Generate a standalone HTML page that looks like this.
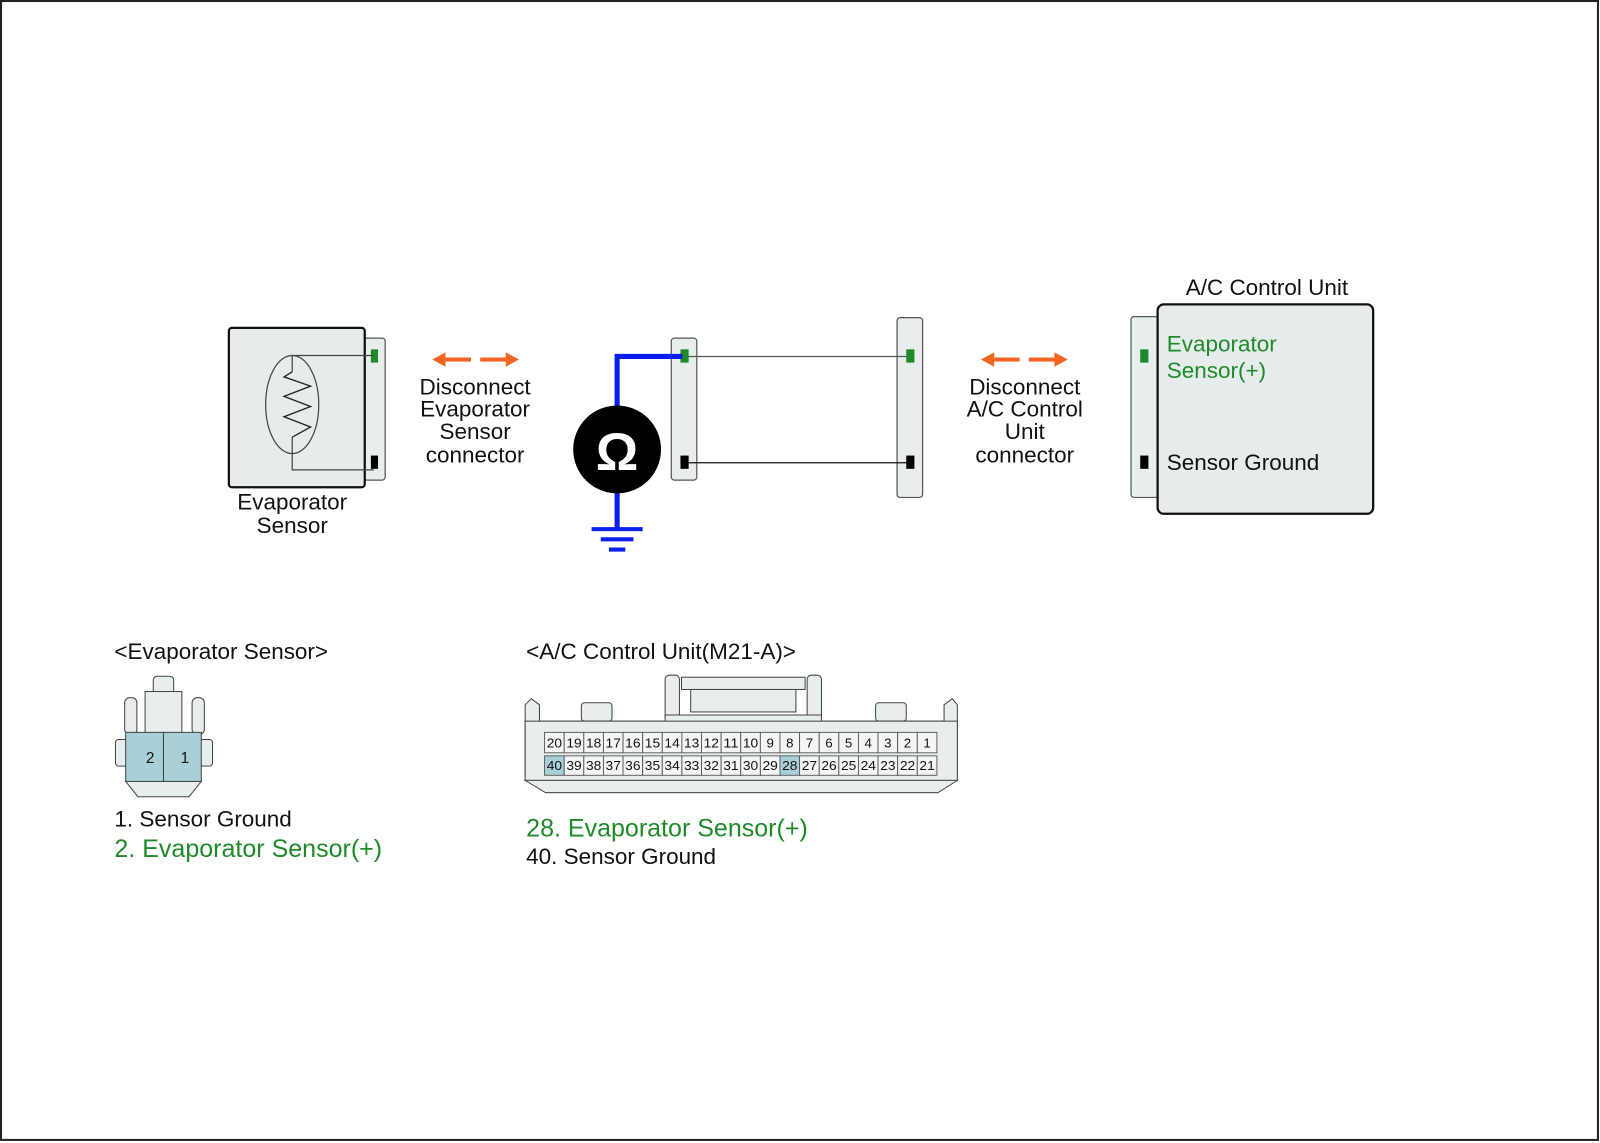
<!DOCTYPE html>
<html><head><meta charset="utf-8"><style>
html,body{margin:0;padding:0;background:#fff}
svg{display:block}
text{font-family:"Liberation Sans",sans-serif;font-size:22px;fill:#111}
.g{fill:#1f8a2a}
.c text{font-size:13px}
</style></head><body>
<svg width="1600" height="1143" viewBox="0 0 1566 1119" preserveAspectRatio="none" xmlns="http://www.w3.org/2000/svg">
<rect x="1" y="1" width="1563" height="1115" fill="#fff" stroke="#222" stroke-width="2"/>
<rect x="356" y="331" width="21" height="139" rx="3" fill="#e8eeee" stroke="#555" stroke-width="1.2"/>
<rect x="224" y="321" width="133" height="156" rx="3" fill="#e6ecec" stroke="#111" stroke-width="2.2"/>
<rect x="363" y="342" width="7" height="13" fill="#1f8a2a"/>
<rect x="363" y="446" width="7" height="13" fill="#000"/>
<polyline points="366,348 286,348 286,364" fill="none" stroke="#444" stroke-width="1.2"/>
<polyline points="286,428 286,460 366,460" fill="none" stroke="#444" stroke-width="1.2"/>
<ellipse cx="286" cy="396" rx="26" ry="48" fill="none" stroke="#444" stroke-width="1.2"/>
<polyline points="286,364 278,369 304,378 278,388 304,398 278,408 304,418 286,428" fill="none" stroke="#222" stroke-width="1.3"/>
<text x="286" y="499" text-anchor="middle">Evaporator</text>
<text x="286" y="522" text-anchor="middle">Sensor</text>
<g fill="#f26522">
<rect x="434" y="350" width="27" height="4"/><polygon points="423,352 436,345 436,359"/>
<rect x="470" y="350" width="27" height="4"/><polygon points="508,352 495,345 495,359"/>
<rect x="971" y="350" width="27" height="4"/><polygon points="960,352 973,345 973,359"/>
<rect x="1007" y="350" width="27" height="4"/><polygon points="1045,352 1032,345 1032,359"/>
</g>
<text x="465" y="386" text-anchor="middle">Disconnect</text>
<text x="465" y="408" text-anchor="middle">Evaporator</text>
<text x="465" y="430" text-anchor="middle">Sensor</text>
<text x="465" y="453" text-anchor="middle">connector</text>
<text x="1003" y="386" text-anchor="middle">Disconnect</text>
<text x="1003" y="408" text-anchor="middle">A/C Control</text>
<text x="1003" y="430" text-anchor="middle">Unit</text>
<text x="1003" y="453" text-anchor="middle">connector</text>
<rect x="657" y="331" width="25" height="139" rx="3" fill="#e8eeee" stroke="#555" stroke-width="1.2"/>
<rect x="878" y="311" width="25" height="176" rx="3" fill="#e8eeee" stroke="#555" stroke-width="1.2"/>
<line x1="670" y1="349" x2="890" y2="349" stroke="#555" stroke-width="1.2"/>
<line x1="670" y1="453" x2="890" y2="453" stroke="#111" stroke-width="1.2"/>
<rect x="666" y="342" width="8" height="13" fill="#1f8a2a"/>
<rect x="666" y="446" width="8" height="13" fill="#000"/>
<rect x="887" y="342" width="8" height="13" fill="#1f8a2a"/>
<rect x="887" y="446" width="8" height="13" fill="#000"/>
<polyline points="604,400 604,349 668,349" fill="none" stroke="#0a1ef0" stroke-width="5"/>
<line x1="604" y1="480" x2="604" y2="518" stroke="#0a1ef0" stroke-width="5"/>
<line x1="579" y1="518" x2="629" y2="518" stroke="#0a1ef0" stroke-width="4"/>
<line x1="588" y1="528" x2="620" y2="528" stroke="#0a1ef0" stroke-width="4"/>
<line x1="596" y1="538" x2="612" y2="538" stroke="#0a1ef0" stroke-width="4"/>
<circle cx="604" cy="440" r="43" fill="#000"/>
<text x="604" y="460" text-anchor="middle" style="font-size:52px;font-weight:bold;fill:#fff">Ω</text>
<text x="1240" y="289" text-anchor="middle">A/C Control Unit</text>
<rect x="1107" y="310" width="28" height="177" rx="3" fill="#e8eeee" stroke="#555" stroke-width="1.2"/>
<rect x="1133" y="298" width="211" height="205" rx="6" fill="#e6ecec" stroke="#111" stroke-width="2.2"/>
<rect x="1116" y="342" width="8" height="13" fill="#1f8a2a"/>
<rect x="1116" y="446" width="8" height="13" fill="#000"/>
<text x="1142" y="344" class="g">Evaporator</text>
<text x="1142" y="370" class="g">Sensor(+)</text>
<text x="1142" y="460">Sensor Ground</text>
<text x="112" y="645">&lt;Evaporator Sensor&gt;</text>
<g stroke="#444" stroke-width="1" fill="#e8eeee">
<rect x="150" y="662" width="20" height="18" rx="4"/>
<rect x="122" y="683" width="12" height="36" rx="5"/>
<rect x="188" y="683" width="12" height="36" rx="5"/>
<rect x="142" y="677" width="36" height="42"/>
<rect x="113" y="724" width="12" height="26" rx="3"/>
<rect x="196" y="724" width="12" height="26" rx="3"/>
<polygon points="123,765 197,765 185,780 135,780"/>
<rect x="123" y="717" width="37" height="48" fill="#a9d0d8"/>
<rect x="160" y="717" width="37" height="48" fill="#a9d0d8"/>
</g>
<text x="147" y="747" text-anchor="middle" style="font-size:15px">2</text>
<text x="181" y="747" text-anchor="middle" style="font-size:15px">1</text>
<text x="112" y="809">1. Sensor Ground</text>
<text x="112" y="839" class="g" style="font-size:24.5px">2. Evaporator Sensor(+)</text>
<text x="515" y="645">&lt;A/C Control Unit(M21-A)&gt;</text>
<g stroke="#444" stroke-width="1" fill="#e8eeee">
<rect x="651" y="661" width="14" height="45" rx="4"/>
<rect x="790" y="661" width="14" height="45" rx="4"/>
<rect x="667" y="663" width="121" height="12"/>
<rect x="676" y="675" width="103" height="22"/>
<rect x="569" y="688" width="30" height="18" rx="3"/>
<rect x="857" y="688" width="30" height="18" rx="3"/>
<polygon points="514,690 520,684 528,690 528,706 651,706 651,700 804,700 804,706 924,706 924,690 932,684 937,690 937,758 918,776 534,776 514,758"/>
<rect x="514" y="706" width="423" height="58"/>
<polygon points="514,764 937,764 918,776 534,776"/>
</g>
<g stroke="#555" stroke-width="0.9">
<rect x="533" y="717" width="19.2" height="20" fill="#f4f6f6"/><rect x="552.2" y="717" width="19.2" height="20" fill="#f4f6f6"/><rect x="571.4" y="717" width="19.2" height="20" fill="#f4f6f6"/><rect x="590.6" y="717" width="19.2" height="20" fill="#f4f6f6"/><rect x="609.8" y="717" width="19.2" height="20" fill="#f4f6f6"/><rect x="629" y="717" width="19.2" height="20" fill="#f4f6f6"/><rect x="648.2" y="717" width="19.2" height="20" fill="#f4f6f6"/><rect x="667.4" y="717" width="19.2" height="20" fill="#f4f6f6"/><rect x="686.6" y="717" width="19.2" height="20" fill="#f4f6f6"/><rect x="705.8" y="717" width="19.2" height="20" fill="#f4f6f6"/><rect x="725" y="717" width="19.2" height="20" fill="#f4f6f6"/><rect x="744.2" y="717" width="19.2" height="20" fill="#f4f6f6"/><rect x="763.4" y="717" width="19.2" height="20" fill="#f4f6f6"/><rect x="782.6" y="717" width="19.2" height="20" fill="#f4f6f6"/><rect x="801.8" y="717" width="19.2" height="20" fill="#f4f6f6"/><rect x="821" y="717" width="19.2" height="20" fill="#f4f6f6"/><rect x="840.2" y="717" width="19.2" height="20" fill="#f4f6f6"/><rect x="859.4" y="717" width="19.2" height="20" fill="#f4f6f6"/><rect x="878.6" y="717" width="19.2" height="20" fill="#f4f6f6"/><rect x="897.8" y="717" width="19.2" height="20" fill="#f4f6f6"/>
<rect x="533" y="740" width="19.2" height="19" fill="#a9d0d8"/><rect x="552.2" y="740" width="19.2" height="19" fill="#f4f6f6"/><rect x="571.4" y="740" width="19.2" height="19" fill="#f4f6f6"/><rect x="590.6" y="740" width="19.2" height="19" fill="#f4f6f6"/><rect x="609.8" y="740" width="19.2" height="19" fill="#f4f6f6"/><rect x="629" y="740" width="19.2" height="19" fill="#f4f6f6"/><rect x="648.2" y="740" width="19.2" height="19" fill="#f4f6f6"/><rect x="667.4" y="740" width="19.2" height="19" fill="#f4f6f6"/><rect x="686.6" y="740" width="19.2" height="19" fill="#f4f6f6"/><rect x="705.8" y="740" width="19.2" height="19" fill="#f4f6f6"/><rect x="725" y="740" width="19.2" height="19" fill="#f4f6f6"/><rect x="744.2" y="740" width="19.2" height="19" fill="#f4f6f6"/><rect x="763.4" y="740" width="19.2" height="19" fill="#a9d0d8"/><rect x="782.6" y="740" width="19.2" height="19" fill="#f4f6f6"/><rect x="801.8" y="740" width="19.2" height="19" fill="#f4f6f6"/><rect x="821" y="740" width="19.2" height="19" fill="#f4f6f6"/><rect x="840.2" y="740" width="19.2" height="19" fill="#f4f6f6"/><rect x="859.4" y="740" width="19.2" height="19" fill="#f4f6f6"/><rect x="878.6" y="740" width="19.2" height="19" fill="#f4f6f6"/><rect x="897.8" y="740" width="19.2" height="19" fill="#f4f6f6"/>
</g>
<g class="c" text-anchor="middle">
<text x="542.6" y="732" textLength="15" lengthAdjust="spacingAndGlyphs">20</text><text x="561.8" y="732" textLength="15" lengthAdjust="spacingAndGlyphs">19</text><text x="581" y="732" textLength="15" lengthAdjust="spacingAndGlyphs">18</text><text x="600.2" y="732" textLength="15" lengthAdjust="spacingAndGlyphs">17</text><text x="619.4" y="732" textLength="15" lengthAdjust="spacingAndGlyphs">16</text><text x="638.6" y="732" textLength="15" lengthAdjust="spacingAndGlyphs">15</text><text x="657.8" y="732" textLength="15" lengthAdjust="spacingAndGlyphs">14</text><text x="677" y="732" textLength="15" lengthAdjust="spacingAndGlyphs">13</text><text x="696.2" y="732" textLength="15" lengthAdjust="spacingAndGlyphs">12</text><text x="715.4" y="732" textLength="15" lengthAdjust="spacingAndGlyphs">11</text><text x="734.6" y="732" textLength="15" lengthAdjust="spacingAndGlyphs">10</text><text x="753.8" y="732">9</text><text x="773" y="732">8</text><text x="792.2" y="732">7</text><text x="811.4" y="732">6</text><text x="830.6" y="732">5</text><text x="849.8" y="732">4</text><text x="869" y="732">3</text><text x="888.2" y="732">2</text><text x="907.4" y="732">1</text>
<text x="542.6" y="754" textLength="15" lengthAdjust="spacingAndGlyphs">40</text><text x="561.8" y="754" textLength="15" lengthAdjust="spacingAndGlyphs">39</text><text x="581" y="754" textLength="15" lengthAdjust="spacingAndGlyphs">38</text><text x="600.2" y="754" textLength="15" lengthAdjust="spacingAndGlyphs">37</text><text x="619.4" y="754" textLength="15" lengthAdjust="spacingAndGlyphs">36</text><text x="638.6" y="754" textLength="15" lengthAdjust="spacingAndGlyphs">35</text><text x="657.8" y="754" textLength="15" lengthAdjust="spacingAndGlyphs">34</text><text x="677" y="754" textLength="15" lengthAdjust="spacingAndGlyphs">33</text><text x="696.2" y="754" textLength="15" lengthAdjust="spacingAndGlyphs">32</text><text x="715.4" y="754" textLength="15" lengthAdjust="spacingAndGlyphs">31</text><text x="734.6" y="754" textLength="15" lengthAdjust="spacingAndGlyphs">30</text><text x="753.8" y="754" textLength="15" lengthAdjust="spacingAndGlyphs">29</text><text x="773" y="754" textLength="15" lengthAdjust="spacingAndGlyphs">28</text><text x="792.2" y="754" textLength="15" lengthAdjust="spacingAndGlyphs">27</text><text x="811.4" y="754" textLength="15" lengthAdjust="spacingAndGlyphs">26</text><text x="830.6" y="754" textLength="15" lengthAdjust="spacingAndGlyphs">25</text><text x="849.8" y="754" textLength="15" lengthAdjust="spacingAndGlyphs">24</text><text x="869" y="754" textLength="15" lengthAdjust="spacingAndGlyphs">23</text><text x="888.2" y="754" textLength="15" lengthAdjust="spacingAndGlyphs">22</text><text x="907.4" y="754" textLength="15" lengthAdjust="spacingAndGlyphs">21</text>
</g>
<text x="515" y="819" class="g" style="font-size:24.5px">28. Evaporator Sensor(+)</text>
<text x="515" y="846">40. Sensor Ground</text>
</svg>
</body></html>
